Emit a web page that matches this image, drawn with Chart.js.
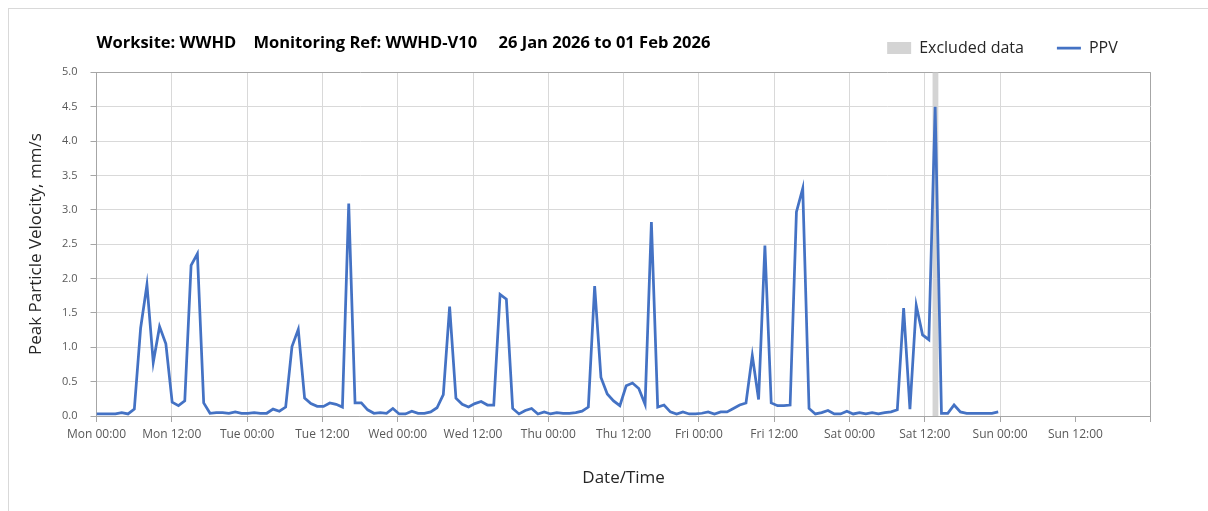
<!DOCTYPE html>
<html><head><meta charset="utf-8">
<script src="https://cdn.jsdelivr.net/npm/chart.js@4.4.1/dist/chart.umd.min.js"></script>
<style>
html,body{margin:0;padding:0;background:#fff;overflow:hidden;}
#frame{position:absolute;left:8px;top:8px;width:1210px;height:510px;border:1px solid #d9d9d9;box-sizing:border-box;}
#c{position:absolute;left:0;top:0;}
</style></head><body>
<div id="frame"></div>
<canvas id="c" width="1208" height="511"></canvas>
<script>
// ---- data ----
const chartTitle = 'Worksite: WWHD    Monitoring Ref: WWHD-V10     26 Jan 2026 to 01 Feb 2026';
const xTitle = 'Date/Time';
const yTitle = 'Peak Particle Velocity, mm/s';
const tickLabels = ['Mon 00:00','Mon 12:00','Tue 00:00','Tue 12:00','Wed 00:00','Wed 12:00','Thu 00:00','Thu 12:00','Fri 00:00','Fri 12:00','Sat 00:00','Sat 12:00','Sun 00:00','Sun 12:00',''];
const tickStepHours = 12;
const axisEndHour = 168;
// PPV readings (mm/s), evenly spaced from Mon 00:00 to about Sun 00:00
const dataStartHour = 0;
const dataEndHour = 143.7;
const ppvValues = [
 0.03,0.03,0.03,0.03,0.05,0.03,0.10,1.28,1.91,0.78,1.30,1.05,0.20,0.15,0.22,2.19,2.36,0.19,0.04,0.05,0.05,0.04,0.06,0.04,
 0.04,0.05,0.04,0.04,0.10,0.07,0.13,1.01,1.26,0.26,0.18,0.14,0.14,0.19,0.17,0.13,3.09,0.19,0.19,0.09,0.04,0.05,0.04,0.11,
 0.03,0.03,0.07,0.04,0.04,0.06,0.12,0.31,1.59,0.26,0.17,0.13,0.18,0.21,0.16,0.16,1.77,1.70,0.11,0.03,0.08,0.11,0.03,0.06,
 0.03,0.05,0.04,0.04,0.05,0.07,0.13,1.89,0.56,0.32,0.22,0.15,0.44,0.48,0.40,0.17,2.82,0.13,0.16,0.06,0.03,0.06,0.03,0.03,
 0.04,0.06,0.03,0.06,0.06,0.11,0.16,0.19,0.88,0.24,2.48,0.19,0.15,0.15,0.16,2.97,3.31,0.11,0.03,0.05,0.08,0.03,0.03,0.07,
 0.03,0.05,0.03,0.05,0.03,0.05,0.06,0.09,1.57,0.10,1.61,1.18,1.11,4.50,0.04,0.04,0.16,0.06,0.04,0.04,0.04,0.04,0.04,0.06
];
const excludedFrom = 133.2;
const excludedTo = 134.2;
const yMin = 0, yMax = 5, yStep = 0.5;

// ---- build ----
const stepH = (dataEndHour - dataStartHour) / (ppvValues.length - 1);
const ppvPoints = ppvValues.map((v, i) => ({x: dataStartHour + i * stepH, y: v}));
const excludedPoints = [{x: excludedFrom, y: yMax}, {x: excludedTo, y: yMax}];

const FONT = "'Open Sans', sans-serif";
const gridLight = '#d9d9d9';
const gridDark = '#a6a6a6';

new Chart(document.getElementById('c'), {
  type: 'line',
  data: {
    datasets: [
      {label: 'PPV', data: ppvPoints, borderColor: '#4472C4', backgroundColor: '#4472C4', borderWidth: 2.75,
       pointRadius: 0, tension: 0, fill: false, pointStyle: 'line'},
      {label: 'Excluded data', data: excludedPoints, borderWidth: 0, borderColor: 'rgba(0,0,0,0)', backgroundColor: '#d4d4d4',
       pointRadius: 0, fill: 'origin', pointStyle: 'rect'}
    ]
  },
  options: {
    responsive: false, animation: false, devicePixelRatio: 1,
    layout: {padding: {left: 0, right: 57.3, top: 7, bottom: 0}},
    plugins: {
      tooltip: {enabled: false},
      legend: {
        position: 'top', align: 'end', weight: 1000,
        labels: {
          usePointStyle: true, pointStyleWidth: 24, boxHeight: 12, padding: 33,
          font: {family: FONT, size: 16}, color: '#262626',
          sort: (a, b) => b.datasetIndex - a.datasetIndex
        }
      },
      title: {
        display: true, text: chartTitle, align: 'start', position: 'top', weight: 500, fullSize: false,
        font: {family: FONT, size: 16.5, weight: 'bold'}, color: '#000',
        padding: {top: -33, bottom: 19.5}
      }
    },
    scales: {
      x: {
        type: 'linear', min: 0, max: axisEndHour,
        ticks: {stepSize: tickStepHours, autoSkip: false, maxRotation: 0, padding: 5,
                font: {family: FONT, size: 12}, color: '#595959',
                callback: (v) => tickLabels[Math.round(v / tickStepHours)] ?? ''},
        grid: {color: (c) => c.tick && c.tick.value === 156 ? 'rgba(0,0,0,0)' : (c.tick && c.tick.value === axisEndHour ? gridDark : gridLight),
               tickColor: gridDark, tickLength: 6, lineWidth: 1},
        border: {color: gridDark, width: 1},
        title: {display: true, text: xTitle, font: {family: FONT, size: 17}, color: '#262626', padding: {top: 0, bottom: 23}},
        afterFit: (s) => { s.height = 95; }
      },
      y: {
        min: yMin, max: yMax,
        ticks: {stepSize: yStep, padding: 13, font: {family: FONT, size: 11}, color: '#595959',
                callback: (v) => Number(v).toFixed(1)},
        grid: {color: (c) => c.tick && c.tick.value === yMax ? gridDark : gridLight, tickColor: gridDark, tickLength: 6},
        border: {color: gridDark, width: 1},
        title: {display: true, text: yTitle, font: {family: FONT, size: 17}, color: '#262626', padding: {top: 26, bottom: 0}},
        afterFit: (s) => { s.width = 96.5; }
      }
    }
  }
});
</script>
</body></html>
